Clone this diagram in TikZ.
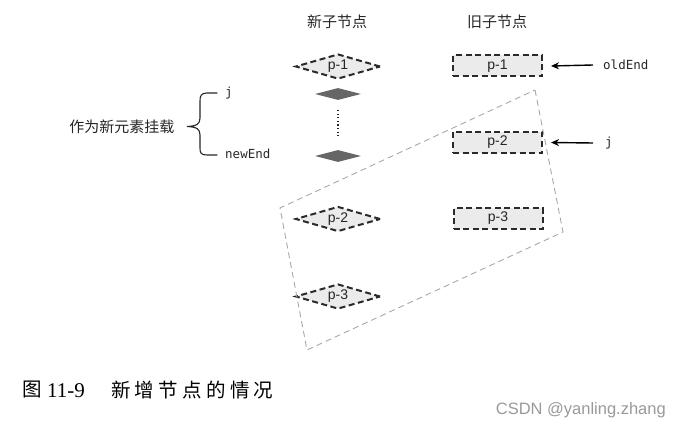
\documentclass[tikz,border=0pt]{standalone}
\usepackage{fontspec}
\usetikzlibrary{shapes.geometric,arrows.meta}
\newfontfamily\cjk{Noto Sans CJK SC}
\newfontfamily\monof{DejaVu Sans Mono}
\newfontfamily\sansf{Liberation Sans}
\newfontfamily\seriff{Liberation Serif}
\definecolor{txt}{HTML}{262626}
\definecolor{bord}{HTML}{2A2A2A}
\definecolor{nfill}{HTML}{EBEBEB}
\definecolor{dkfill}{HTML}{666666}
\definecolor{grp}{HTML}{A8A8A8}
\definecolor{wm}{HTML}{999999}
\newcommand\ksp{\kern4.3pt}
\tikzset{
  newnode/.style={diamond, aspect=3.4, inner sep=0pt, minimum width=85pt, minimum height=25pt,
    draw=bord, fill=nfill, line width=2pt, dash pattern=on 6pt off 3.5pt,
    font=\sansf\fontsize{14}{16}\selectfont, text=txt},
  oldnode/.style={rectangle, inner sep=0pt, minimum width=89pt, minimum height=21pt,
    draw=bord, fill=nfill, line width=2pt, dash pattern=on 6pt off 3.5pt,
    font=\sansf\fontsize{14}{16}\selectfont, text=txt},
  solidnode/.style={diamond, aspect=3.8, inner sep=0pt, minimum width=46pt, minimum height=12pt,
    fill=dkfill},
  header/.style={font=\cjk\fontsize{15}{17}\selectfont, text=txt},
  codelabel/.style={font=\monof\fontsize{12.5}{15}\selectfont, text=txt, inner sep=0pt, anchor=west},
  arr/.style={-{Stealth[length=8pt,width=7pt]}, line width=1.4pt, draw=black},
  grpbox/.style={draw=grp, line width=0.9pt, dash pattern=on 6pt off 4pt},
}
\begin{document}
\begin{tikzpicture}[x=1pt,y=-1pt]
\useasboundingbox (0,0) rectangle (681,428);
% headers
\node[header] (hnew) at (337,22) {新子节点};
\node[header] (hold) at (497,22) {旧子节点};
% new children
\node[newnode] (n1) at (338,66.5) {p-1};
\node[solidnode] (s1) at (338,94) {};
\node[solidnode] (s2) at (338,156) {};
\coordinate (d1) at (338,110);
\coordinate (d2) at (338,137);
\draw[line width=1.2pt, dash pattern=on 1.2pt off 2.4pt, draw=txt] (d1) -- (d2);
\node[newnode] (n2) at (338,219) {p-2};
\node[newnode] (n3) at (338,296.5) {p-3};
% old children
\node[oldnode] (o1) at (497.5,66) {p-1};
\node[oldnode] (o2) at (497.5,142.5) {p-2};
\node[oldnode] (o3) at (498,218.5) {p-3};
% labels with arrows
\node[codelabel] (loe) at (603,65) {oldEnd};
\node[codelabel] (lj) at (605,143) {j};
\draw[arr] ([xshift=-10pt]loe.west) -- ([xshift=8pt]o1.east);
\draw[arr] ([xshift=-12pt]lj.west) -- ([xshift=8pt]o2.east);
% group box
\coordinate (gT) at (535,90);
\coordinate (gR) at (563,232);
\coordinate (gB) at (307,350);
\coordinate (gL) at (280,208);
\draw[grpbox] (gT) -- (gR) -- (gB) -- (gL) -- cycle;
% brace and left labels
\node[codelabel] (lj2) at (225,93) {j};
\node[codelabel] (lne) at (225,154) {newEnd};
\node[header, anchor=east] (mount) at (178,127) {作为新元素挂载};
\draw[line width=1.1pt, draw=txt, line cap=round]
  (217,93) -- (207,93) .. controls (201,93) and (200,96) .. (200,101) -- (200,118)
  .. controls (200,124) and (197,126) .. (187,126.5)
  .. controls (197,127) and (200,129) .. (200,135) -- (200,148)
  .. controls (200,153) and (201,155) .. (207,155) -- (217,155);
% caption
\node[anchor=west, inner sep=0pt, font=\cjk\fontsize{19.5}{22}\selectfont] (capfig) at (22,390) {图};
\node[anchor=west, inner sep=0pt, font=\seriff\fontsize{21}{24}\selectfont] (capnum) at (47,390.5) {11-9};
\node[anchor=west, inner sep=0pt, font=\cjk\fontsize{19.5}{22}\selectfont] (captxt) at (111,390)
  {新\ksp 增\ksp 节\ksp 点\ksp 的\ksp 情\ksp 况};
% watermark
\node[anchor=east, inner sep=0pt, text=wm, font=\sansf\fontsize{16.5}{19}\selectfont] (wmk) at (666,410) {CSDN @yanling.zhang};
\end{tikzpicture}
\end{document}
